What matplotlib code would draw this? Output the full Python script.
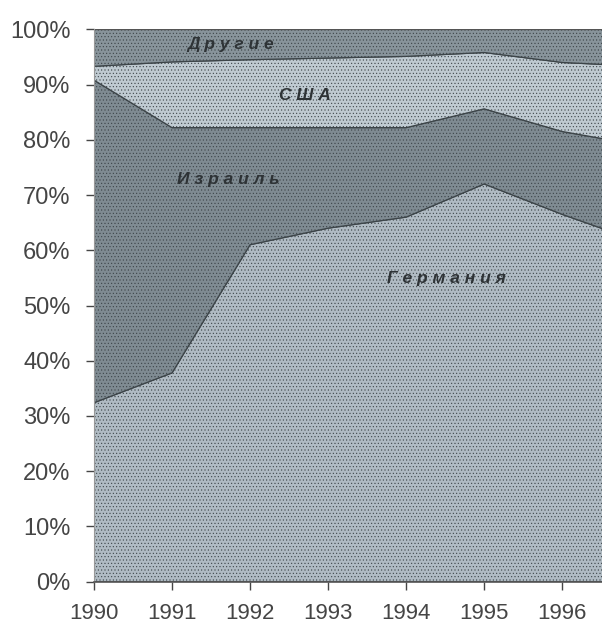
import matplotlib.pyplot as plt
import numpy as np

# shares in % (1997 partly visible at right edge, estimated)
years = [1990, 1991, 1992, 1993, 1994, 1995, 1996, 1997]
germany = [32.4, 37.8, 61.0, 64.0, 66.0, 72.0, 66.5, 61.5]
israel = [58.4, 44.4, 21.2, 18.2, 16.2, 13.6, 15.0, 17.5]
usa = [2.5, 11.9, 12.3, 12.6, 12.9, 10.2, 12.5, 14.3]
others = [6.7, 5.9, 5.5, 5.2, 4.9, 4.2, 6.0, 6.7]

names = ['Германия', 'Израиль', 'США', 'Другие']
colors = ['#b0bbc3', '#7f8b92', '#bfcad1', '#88949b']

plt.rcParams['font.family'] = ['Liberation Sans', 'DejaVu Sans']
plt.rcParams['hatch.linewidth'] = 0.4

fig = plt.figure(figsize=(6.02, 6.27), dpi=100)
ax = fig.add_axes([94 / 602, 1 - 581.7 / 627, 1 - 94 / 602, (581.7 - 29.3) / 627])

series = [germany, israel, usa, others]
stacks = ax.stackplot(years, *series, colors=colors, edgecolor='#3c4448',
                      linewidth=0.9)
for poly in stacks:
    poly.set_hatch('.....')
    poly.set_edgecolor('#3c4448')

ax.set_xlim(1990, 1996.51)
ax.set_ylim(0, 100)
ax.set_xticks(years[:7])
ax.set_xticklabels([str(y) for y in years[:7]])
ax.set_yticks(np.arange(0, 101, 10))
ax.set_yticklabels(['%d%%' % v for v in range(0, 101, 10)])

ax.tick_params(axis='both', labelsize=17, colors='#454545', length=6, width=1)
ax.tick_params(axis='y', pad=11)
ax.tick_params(axis='x', pad=9, labelsize=16)
for s in ['top', 'right']:
    ax.spines[s].set_visible(False)
ax.spines['left'].set_color('#999999')
ax.spines['bottom'].set_color('#555555')
ax.spines['bottom'].set_linewidth(1.2)
ax.axhline(100, color='#555555', linewidth=1.0)

lab = dict(fontsize=12.5, fontweight='bold', fontstyle='italic', color='#2e3336',
           ha='center', va='center')
ax.text(1991.75, 97.3, 'Д р у г и е', **lab)
ax.text(1992.7, 88.0, 'С Ш А', **lab)
ax.text(1991.72, 72.8, 'И з р а и л ь', **lab)
ax.text(1994.52, 54.8, 'Г е р м а н и я', **lab)

fig.savefig('out.png', dpi=100)
